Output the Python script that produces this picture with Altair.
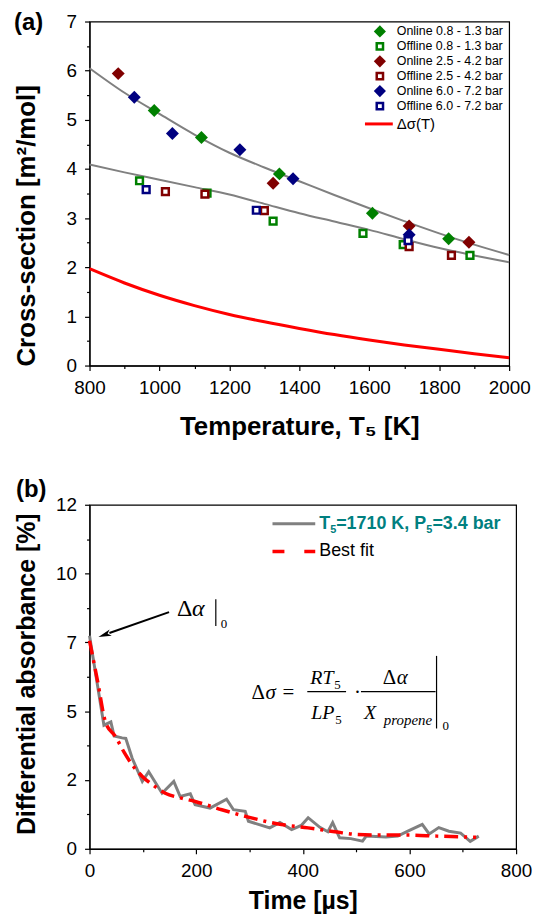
import altair as alt
import pandas as pd

SANS = "Liberation Sans"
SERIF = "Liberation Serif"
GREEN, DRED, NAVY = "#008000", "#800000", "#000080"
GRAY, RED, TEAL = "#808080", "#ff0000", "#008080"

# ---------------- Panel (a) data ----------------
series_labels = ["Online 0.8 - 1.3 bar", "Offline 0.8 - 1.3 bar",
                 "Online 2.5 - 4.2 bar", "Offline 2.5 - 4.2 bar",
                 "Online 6.0 - 7.2 bar", "Offline 6.0 - 7.2 bar"]
online_08_T = [985, 1120, 1343, 1609, 1827]
online_08_v = [5.19, 4.64, 3.90, 3.10, 2.58]
offline_08_T = [943, 1136, 1325, 1582, 1697, 1888]
offline_08_v = [3.76, 3.51, 2.94, 2.69, 2.46, 2.24]
online_25_T = [882, 1325, 1714, 1885]
online_25_v = [5.94, 3.71, 2.84, 2.51]
offline_25_T = [1017, 1130, 1300, 1714, 1835]
offline_25_v = [3.54, 3.49, 3.15, 2.42, 2.24]
online_60_T = [928, 1037, 1230, 1382, 1714]
online_60_v = [5.46, 4.72, 4.39, 3.80, 2.66]
offline_60_T = [962, 1277, 1711]
offline_60_v = [3.58, 3.16, 2.54]

curve_T = [800, 900, 1000, 1100, 1200, 1300, 1400, 1500, 1600, 1700, 1800, 1900, 2000]
online_fit = [6.05, 5.55, 5.12, 4.70, 4.33, 4.03, 3.75, 3.47, 3.20, 2.94, 2.69, 2.46, 2.25]
offline_fit = [4.09, 3.93, 3.78, 3.63, 3.48, 3.29, 3.10, 2.93, 2.76, 2.57, 2.39, 2.24, 2.10]
delta_sigma = [1.97, 1.68, 1.43, 1.22, 1.04, 0.89, 0.755, 0.63, 0.52, 0.42, 0.33, 0.24, 0.16]

# ---------------- Panel (b) data ----------------
time_us = [0, 27, 40, 46, 61, 68, 80, 99, 111, 136, 158, 170, 189, 198, 226, 257, 270,
           292, 298, 338, 357, 379, 397, 410, 432, 447, 456, 469, 490, 512, 519, 556,
           578, 596, 624, 637, 655, 674, 696, 714, 730]
absorbance = [7.74, 4.49, 4.61, 4.10, 4.03, 4.01, 3.29, 2.45, 2.80, 2.02, 2.45, 1.90, 2.00,
              1.60, 1.48, 1.80, 1.42, 1.36, 1.00, 0.76, 0.96, 0.70, 0.85, 1.13, 0.78, 0.62,
              0.95, 0.40, 0.37, 0.28, 0.46, 0.43, 0.46, 0.63, 0.89, 0.54, 0.77, 0.64, 0.57,
              0.27, 0.46]
fit_time = [0, 15, 30, 49, 65, 80, 99, 120, 142, 170, 198, 248, 298, 360, 410, 460, 503,
            550, 596, 652, 725]
fit_abs = [7.56, 6.10, 4.60, 4.07, 3.50, 3.05, 2.63, 2.30, 2.02, 1.85, 1.72, 1.42, 1.15,
           0.88, 0.76, 0.62, 0.52, 0.50, 0.50, 0.46, 0.42]

one = pd.DataFrame({"k": [0]})


def txt(s, x, y, size, font=SANS, weight="normal", style="normal", color="black",
        align="left", baseline="alphabetic"):
    return alt.Chart(one).mark_text(
        text=s, font=font, fontSize=size, fontWeight=weight, fontStyle=style,
        color=color, align=align, baseline=baseline
    ).encode(x=alt.value(x), y=alt.value(y))


def hrule(x1, x2, y, color="black", width=1.2, dash=None):
    kw = dict(color=color, strokeWidth=width)
    if dash:
        kw["strokeDash"] = dash
    return alt.Chart(one).mark_rule(**kw).encode(
        x=alt.value(x1), x2=alt.value(x2), y=alt.value(y), y2=alt.value(y))


def vrule(x, y1, y2, color="black", width=1.2):
    return alt.Chart(one).mark_rule(color=color, strokeWidth=width).encode(
        x=alt.value(x), x2=alt.value(x), y=alt.value(y1), y2=alt.value(y2))


axis_common = dict(grid=False, domainColor="black", tickColor="black", labelColor="black",
                   titleColor="black", labelFont=SANS, titleFont=SANS, labelFontSize=19,
                   titleFontWeight="bold", labelOverlap=False, labelFlush=False,
                   domainWidth=1.2, tickWidth=1.2)


def tick_cond(test):
    return {"condition": {"test": test, "value": 5}, "value": 3}


# ---------------- Panel (a) ----------------
x_axis_a = alt.Axis(values=list(range(800, 2001, 100)), format="d",
                    tickSize=tick_cond("datum.value % 200 === 0"),
                    labelExpr="datum.value % 200 === 0 ? datum.label : ''",
                    title="Temperature, T\u2085  [K]", titleY=48, titleBaseline="top",
                    titleFontSize=26, labelPadding=8, **axis_common)
y_axis_a = alt.Axis(values=[i * 0.5 for i in range(15)],
                    tickSize=tick_cond("datum.value % 1 === 0"),
                    labelExpr="datum.value % 1 === 0 ? format(datum.value, 'd') : ''",
                    title="Cross-section  [m\u00b2/mol]", titleAngle=270, titleX=-63,
                    titleY=205, titleAlign="center", titleBaseline="middle",
                    titleFontSize=26, labelPadding=8, **axis_common)
xsc_a = alt.Scale(domain=[800, 2000], nice=False, zero=False)
ysc_a = alt.Scale(domain=[0, 7], nice=False)
XA = alt.X("T:Q", scale=xsc_a, axis=x_axis_a)


def ya(field):
    return alt.Y(f"{field}:Q", scale=ysc_a, axis=y_axis_a)


fit_df = pd.DataFrame({"T": curve_T, "on": online_fit, "off": offline_fit, "d": delta_sigma})
line_on = alt.Chart(fit_df).mark_line(color=GRAY, strokeWidth=2, interpolate="monotone").encode(
    x=XA, y=ya("on"))
line_off = alt.Chart(fit_df).mark_line(color=GRAY, strokeWidth=2, interpolate="monotone").encode(
    x=XA, y=ya("off"))
line_d = alt.Chart(fit_df).mark_line(color=RED, strokeWidth=3, interpolate="monotone").encode(
    x=XA, y=ya("d"))


def pts_layer(T, v, color, filled):
    df = pd.DataFrame({"T": T, "v": v})
    if filled:
        m = alt.Chart(df).mark_point(shape="diamond", filled=True, color=color, size=170,
                                     opacity=1)
    else:
        m = alt.Chart(df).mark_point(shape="square", filled=True, fill="white", stroke=color,
                                     strokeWidth=2.5, size=46, opacity=1)
    return m.encode(x=XA, y=ya("v"))


series_data = [(online_08_T, online_08_v), (offline_08_T, offline_08_v),
               (online_25_T, online_25_v), (offline_25_T, offline_25_v),
               (online_60_T, online_60_v), (offline_60_T, offline_60_v)]
series_colors = [GREEN, GREEN, DRED, DRED, NAVY, NAVY]
series_filled = [True, False, True, False, True, False]

point_layers = [pts_layer(T, v, c, f) for (T, v), c, f in
                zip(series_data, series_colors, series_filled)]

# legend (a)
leg_a = []
for i, (lab, c, f) in enumerate(zip(series_labels, series_colors, series_filled)):
    yy = 10 + 15 * i
    if f:
        sym = alt.Chart(one).mark_point(shape="diamond", filled=True, color=c, size=150,
                                        opacity=1)
    else:
        sym = alt.Chart(one).mark_point(shape="square", filled=True, fill="white", stroke=c,
                                        strokeWidth=2.5, size=40, opacity=1)
    leg_a.append(sym.encode(x=alt.value(292), y=alt.value(yy)))
    leg_a.append(txt(lab, 309, yy, 12.5, baseline="middle"))
leg_a.append(hrule(277, 305, 103, color=RED, width=3))
leg_a.append(txt("\u0394\u03c3(T)", 309, 103, 15, baseline="middle"))

panel_a = alt.layer(
    line_on, line_off, line_d, *point_layers, *leg_a,
    txt("(a)", -76, 2, 24, weight="bold", baseline="middle"),
).properties(width=422, height=346)

# ---------------- Panel (b) ----------------
x_axis_b = alt.Axis(values=list(range(0, 801, 100)), format="d",
                    tickSize=tick_cond("datum.value % 200 === 0"),
                    labelExpr="datum.value % 200 === 0 ? datum.label : ''",
                    title="Time [\u00b5s]", titleY=40, titleBaseline="top",
                    titleFontSize=25, labelPadding=8, **axis_common)
y_axis_b = alt.Axis(values=[i * 1.25 for i in range(11)],
                    tickSize=tick_cond("datum.value % 2.5 === 0"),
                    labelExpr="datum.value % 2.5 === 0 ? format(floor(datum.value), 'd') : ''",
                    title="Differential absorbance [%]", titleAngle=270, titleX=-63,
                    titleY=170, titleAlign="center", titleBaseline="middle",
                    titleFontSize=25, labelPadding=8, **axis_common)
XB = alt.X("t:Q", scale=alt.Scale(domain=[0, 800], nice=False, zero=False), axis=x_axis_b)
YB = alt.Y("a:Q", scale=alt.Scale(domain=[0, 12.5], nice=False), axis=y_axis_b)

meas_df = pd.DataFrame({"t": time_us, "a": absorbance})
fitb_df = pd.DataFrame({"t": fit_time, "a": fit_abs})
meas = alt.Chart(meas_df).mark_line(color=GRAY, strokeWidth=3).encode(x=XB, y=YB)
fitb = alt.Chart(fitb_df).mark_line(color=RED, strokeWidth=3.5, strokeDash=[14, 6, 3, 6],
                                    interpolate="monotone").encode(x=XB, y=YB)

# legend (b)
leg_b = [
    hrule(184, 227, 19, color=GRAY, width=3),
    txt("T", 231, 19, 18, weight="bold", color=TEAL, baseline="middle"),
    txt("5", 242, 25, 11, weight="bold", color=TEAL, baseline="middle"),
    txt("=1710 K, P", 248, 19, 18, weight="bold", color=TEAL, baseline="middle"),
    txt("5", 338.7, 25, 11, weight="bold", color=TEAL, baseline="middle"),
    txt("=3.4 bar", 344.8, 19, 18, weight="bold", color=TEAL, baseline="middle"),
    hrule(184, 227, 47, color=RED, width=3.5, dash=[12, 20]),
    txt("Best fit", 231, 47, 18, baseline="middle"),
]

# annotation: delta alpha |0 with arrow
ann = [
    txt("\u0394", 88, 112, 24, font=SERIF),
    txt("\u03b1", 103, 112, 24, font=SERIF, style="italic"),
    vrule(127, 95, 122),
    txt("0", 132, 124, 13, font=SERIF),
    alt.Chart(one).mark_rule(color="black", strokeWidth=2).encode(
        x=alt.value(80), x2=alt.value(20), y=alt.value(108), y2=alt.value(129)),
    alt.Chart(one).mark_point(shape="M-1,0L1,-0.5L0.5,0L1,0.5Z", filled=True, color="black",
                              size=170, opacity=1, angle=340.6).encode(
        x=alt.value(15.1), y=alt.value(130.8)),
]

# formula
formula = [
    txt("\u0394", 163, 195, 21, font=SERIF),
    txt("\u03c3", 177, 195, 21, font=SERIF, style="italic"),
    txt("=", 194, 195, 21, font=SERIF),
    hrule(219, 258, 188),
    txt("RT", 222, 180, 20, font=SERIF, style="italic"),
    txt("5", 246, 185, 13, font=SERIF),
    txt("LP", 223, 215, 20, font=SERIF, style="italic"),
    txt("5", 247, 220, 13, font=SERIF),
    txt("\u00b7", 266, 195, 21, font=SERIF),
    hrule(273, 348, 188),
    txt("\u0394", 295, 180, 21, font=SERIF),
    txt("\u03b1", 309, 180, 21, font=SERIF, style="italic"),
    txt("X", 276, 215, 20, font=SERIF, style="italic"),
    txt("propene", 296, 221, 15, font=SERIF, style="italic"),
    vrule(349, 152, 225),
    txt("0", 355, 227, 13, font=SERIF),
]

panel_b = alt.layer(
    meas, fitb, *leg_b, *ann, *formula,
    txt("(b)", -74, -15, 24, weight="bold", baseline="middle"),
).properties(width=429, height=346)

chart = alt.vconcat(panel_a, panel_b, spacing=37).properties(
    padding={"left": 5, "top": 0, "right": 0, "bottom": 0},
    background="white",
).configure_view(stroke="black", strokeWidth=1.2)

chart.save("out.html", embed_options={"renderer": "svg", "actions": False})
